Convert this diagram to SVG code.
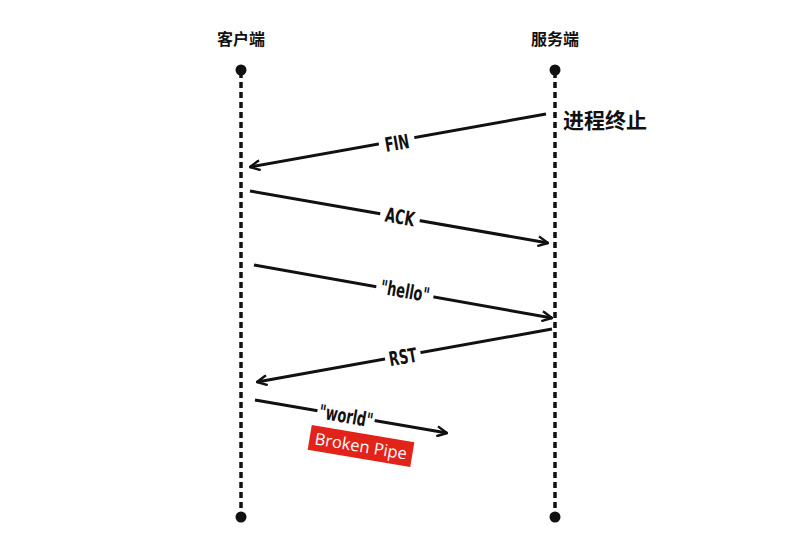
<svg xmlns="http://www.w3.org/2000/svg" width="789" height="551" viewBox="0 0 789 551">
<defs>
<marker id="ah" viewBox="0 0 12 12" refX="11" refY="6" markerWidth="12" markerHeight="12" markerUnits="userSpaceOnUse" orient="auto">
<path d="M1,1 L11,6 L1,11" fill="none" stroke="#111" stroke-width="2.4"/>
</marker>
<style>
.life{stroke:#111;stroke-width:3.5;stroke-dasharray:6 4;fill:none}
.dot{fill:#111}
.msg{stroke:#111;stroke-width:3;fill:none;marker-end:url(#ah)}
.hd{font-family:"Noto Sans CJK SC","Noto Sans",sans-serif;font-weight:bold;font-size:16px;fill:#111;text-anchor:middle}
.lbl{font-family:"DejaVu Sans Condensed","DejaVu Sans",sans-serif;font-stretch:condensed;font-weight:bold;font-size:20px;fill:#111;text-anchor:middle}
.bg{fill:#fff}
</style>
</defs>
<rect width="789" height="551" fill="#fff"/>
<g id="client">
<text class="hd" x="241" y="45">客户端</text>
<line class="life" x1="241" y1="72" x2="241" y2="515"/>
<circle class="dot" cx="241" cy="70" r="5.5"/>
<circle class="dot" cx="241" cy="517" r="5.5"/>
</g>
<g id="server">
<text class="hd" x="555" y="45">服务端</text>
<line class="life" x1="555" y1="72" x2="555" y2="515"/>
<circle class="dot" cx="555" cy="70" r="5.5"/>
<circle class="dot" cx="555" cy="517" r="5.5"/>
<text x="563" y="128" font-family="Noto Sans CJK SC,sans-serif" font-weight="bold" font-size="21" fill="#111">进程终止</text>
</g>
<g id="connectors">
<line class="msg" x1="546" y1="114" x2="250" y2="167"/>
<line class="msg" x1="250" y1="191" x2="548" y2="243"/>
<line class="msg" x1="254" y1="265" x2="552" y2="318"/>
<line class="msg" x1="552" y1="329" x2="257" y2="382"/>
<line class="msg" x1="255" y1="400" x2="447" y2="433"/>
</g>
<g id="labels">
<g transform="translate(397,143) rotate(-10)"><rect class="bg" x="-18" y="-11" width="36" height="22"/><text class="lbl" y="7" transform="scale(0.72,1)">FIN</text></g>
<g transform="translate(400,217) rotate(10)"><rect class="bg" x="-20" y="-11" width="40" height="22"/><text class="lbl" y="7" transform="scale(0.72,1)">ACK</text></g>
<g transform="translate(405,291) rotate(10)"><rect class="bg" x="-29" y="-11" width="58" height="22"/><text class="lbl" y="7" transform="scale(0.72,1)">"hello"</text></g>
<g transform="translate(403,357) rotate(-10)"><rect class="bg" x="-18" y="-11" width="36" height="22"/><text class="lbl" y="7" transform="scale(0.72,1)">RST</text></g>
<g transform="translate(346,416) rotate(10)"><rect class="bg" x="-29" y="-11" width="58" height="22"/><text class="lbl" y="7" transform="scale(0.72,1)">"world"</text></g>
</g>
<g id="broken-pipe" transform="translate(361,446) rotate(9.5)">
<rect x="-52" y="-12.5" width="104" height="25" fill="#e2231a"/>
<text y="6" font-family="Open Sans,sans-serif" font-size="16.5" fill="#fff" text-anchor="middle">Broken Pipe</text>
</g>
</svg>
